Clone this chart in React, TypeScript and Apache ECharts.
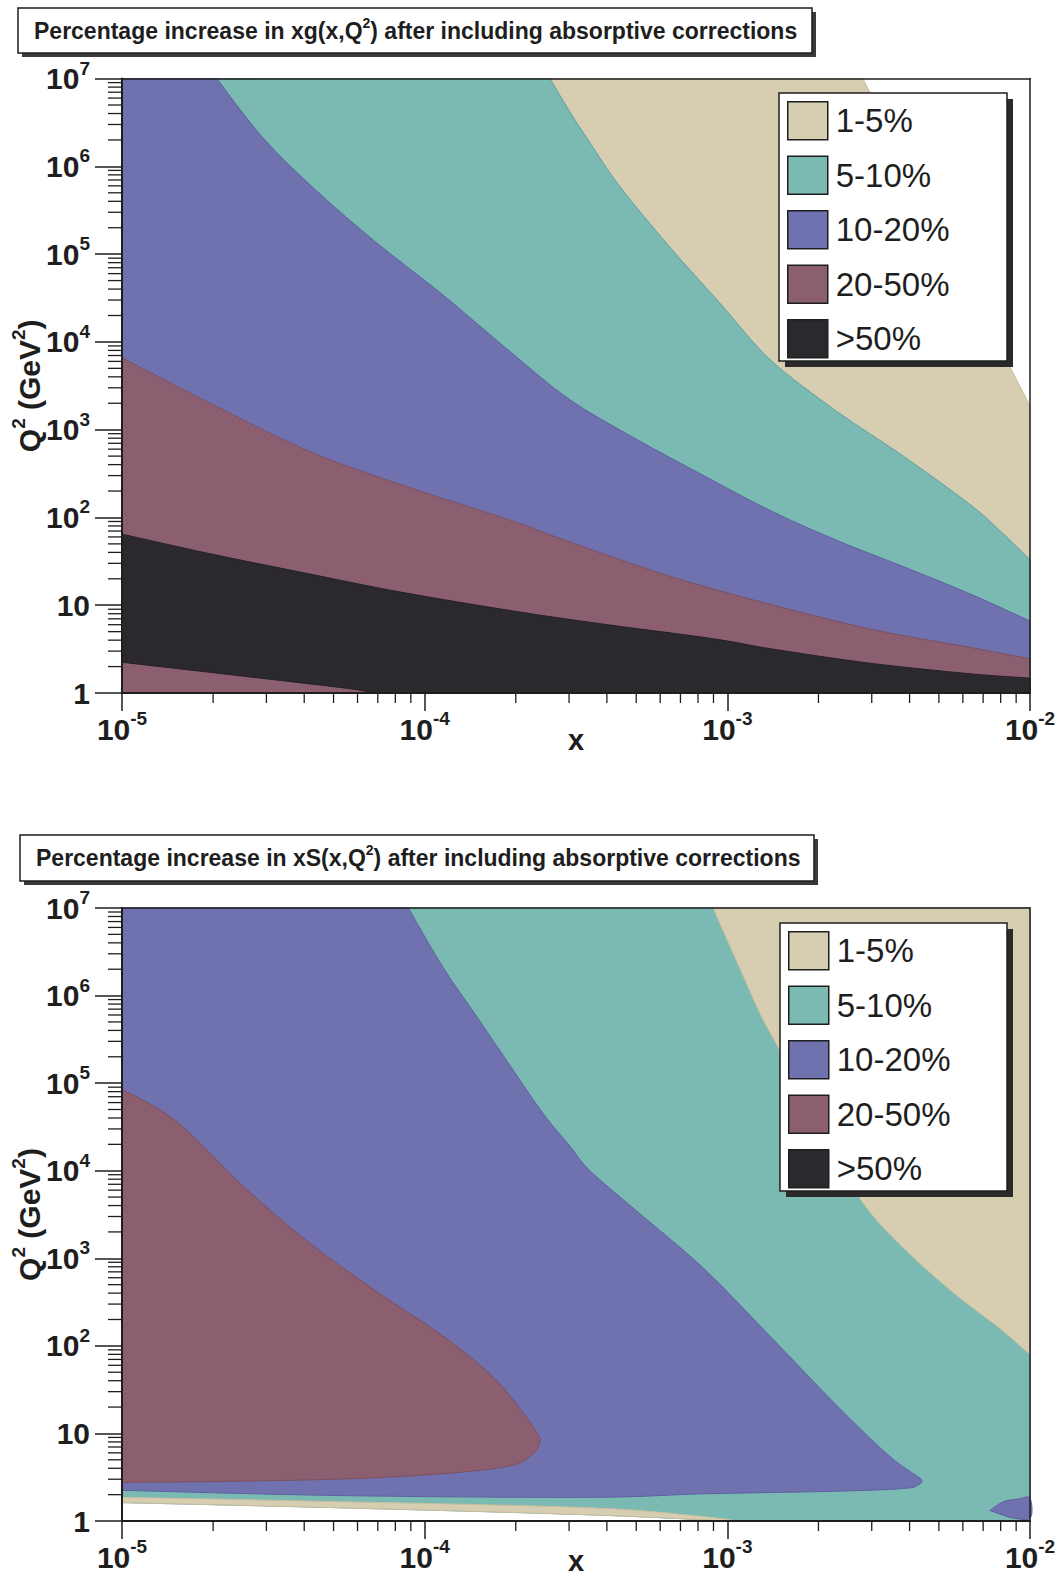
import React, { useEffect, useRef } from 'react';
import * as echarts from 'echarts';

// ---------------- data (log10 x, log10 Q^2) ----------------
const X_MIN = -5;
const X_MAX = -2;
const Y_MIN = 0;
const Y_MAX = 7;

const LEGEND_LABELS = ['1-5%', '5-10%', '10-20%', '20-50%', '>50%'];
const LEVEL_COLORS = ['#d7ceb1', '#7bb9b3', '#6f72ae', '#8b5f6f', '#2b282e'];
const LEVEL_STROKES = ['#c9bf9f', '#5f9fa2', '#5d60a0', '#7b5161', '#242127'];

const PANEL_TITLES = ['xg', 'xS'];

// top panel: xg(x,Q^2)
const TOP_DATA_CUTOFF = [[-2.552, 7.0], [-2.0, 3.27]];
const TOP_TAN_TEAL = [[-3.586, 7.0], [-3.52, 6.62], [-3.454, 6.27], [-3.355, 5.77], [-3.19, 5.08], [-3.024, 4.44], [-2.859, 3.8], [-2.639, 3.21], [-2.419, 2.7], [-2.199, 2.15], [-2.1, 1.85], [-2.0, 1.52]];
const TOP_TEAL_BLUE = [[-4.687, 7.0], [-4.533, 6.32], [-4.357, 5.72], [-4.159, 5.13], [-3.938, 4.53], [-3.718, 3.89], [-3.52, 3.34], [-3.3, 2.89], [-3.08, 2.48], [-2.859, 2.08], [-2.639, 1.74], [-2.419, 1.44], [-2.199, 1.13], [-2.0, 0.82]];
const TOP_BLUE_MAUVE = [[-5.0, 3.82], [-4.709, 3.3], [-4.379, 2.75], [-4.049, 2.34], [-3.718, 1.97], [-3.52, 1.72], [-3.19, 1.33], [-2.859, 1.01], [-2.529, 0.73], [-2.199, 0.52], [-2.0, 0.39]];
const TOP_MAUVE_BLACK = [[-5.0, 1.81], [-4.7, 1.58], [-4.4, 1.37], [-4.08, 1.15], [-3.7, 0.93], [-3.4, 0.78], [-3.05, 0.62], [-2.85, 0.5], [-2.53, 0.34], [-2.2, 0.22], [-2.0, 0.17]];
const TOP_BLACK_LOWER = [[-5.0, 0.35], [-4.62, 0.2], [-4.25, 0.05], [-4.18, 0.0]];

// bottom panel: xS(x,Q^2)
const BOT_DATA_FLOOR = [[-5.0, 0.21], [-4.27, 0.15], [-3.45, 0.07], [-3.0, 0.0]];
const BOT_TAN_LOW_EDGE = [[-5.0, 0.27], [-4.27, 0.22], [-3.45, 0.15], [-3.08, 0.05], [-2.97, 0.0]];
const BOT_TAN_TEAL = [[-3.047, 7.0], [-2.947, 6.22], [-2.887, 5.76], [-2.8, 5.2], [-2.69, 4.42], [-2.551, 3.63], [-2.419, 3.12], [-2.254, 2.61], [-2.1, 2.2], [-2.0, 1.9]];
const BOT_BLUE_EDGE = [[-4.054, 7.0], [-3.939, 6.32], [-3.828, 5.76], [-3.718, 5.2], [-3.608, 4.65], [-3.52, 4.28], [-3.454, 4.0], [-3.3, 3.54], [-3.08, 2.89], [-2.859, 2.11], [-2.639, 1.32], [-2.474, 0.77], [-2.39, 0.55], [-2.358, 0.47], [-2.37, 0.41], [-2.419, 0.37], [-2.639, 0.34], [-3.08, 0.31], [-3.454, 0.27], [-4.269, 0.29], [-5.0, 0.35]];
const BOT_BLUE_BLOB = [[-2.133, 0.12], [-2.088, 0.22], [-2.04, 0.25], [-2.0, 0.26], [-2.0, 0.03], [-2.066, 0.04]];
const BOT_MAUVE_EDGE = [[-5.0, 4.93], [-4.819, 4.56], [-4.599, 3.82], [-4.379, 3.17], [-4.159, 2.62], [-3.939, 2.11], [-3.773, 1.64], [-3.663, 1.18], [-3.625, 0.98], [-3.619, 0.9], [-3.641, 0.77], [-3.718, 0.63], [-3.939, 0.54], [-4.269, 0.48], [-4.709, 0.45], [-5.0, 0.44]];

const MINOR_MULTIPLIERS = [2, 3, 4, 5, 6, 7, 8, 9];

// ---------------- layout ----------------
const FONT = "'Liberation Sans', Arial, Helvetica, sans-serif";
const INK = '#1e1e1e';
const GRIDS = [
  { left: 122, top: 78.6, width: 908, height: 614.4 },
  { left: 122, top: 908, width: 908, height: 613 },
];
const X_NAME_GAPS = [47, 40];
const TITLE_BOXES = [
  { x: 18, y: 8, w: 794, h: 45 },
  { x: 20, y: 835, w: 794, h: 46 },
];
const LEGEND_BOXES = [
  { x: 779, y: 93, w: 228, h: 268 },
  { x: 780, y: 923, w: 227, h: 268 },
];

type Piece = { pts: number[][]; smooth?: boolean };
const rev = (a: number[][]) => a.slice().reverse();
const corner = (...pts: number[][]): Piece => ({ pts });
const curve = (pts: number[][]): Piece => ({ pts, smooth: true });

function regions(panel: number): [number, Piece[]][] {
  if (panel === 0) {
    return [
      [0, [corner([X_MIN, Y_MIN], [X_MIN, Y_MAX], ...TOP_DATA_CUTOFF, [X_MAX, Y_MIN])]],
      [1, [corner([X_MIN, Y_MIN], [X_MIN, Y_MAX]), curve(TOP_TAN_TEAL), corner([X_MAX, Y_MIN])]],
      [2, [corner([X_MIN, Y_MIN], [X_MIN, Y_MAX]), curve(TOP_TEAL_BLUE), corner([X_MAX, Y_MIN])]],
      [3, [corner([X_MIN, Y_MIN]), curve(TOP_BLUE_MAUVE), corner([X_MAX, Y_MIN])]],
      [4, [curve(TOP_MAUVE_BLACK), corner([X_MAX, Y_MIN]), curve(rev(TOP_BLACK_LOWER))]],
    ];
  }
  return [
    [1, [corner([X_MIN, Y_MAX], [X_MAX, Y_MAX], [X_MAX, Y_MIN]), curve(rev(BOT_DATA_FLOOR))]],
    [0, [curve(BOT_TAN_LOW_EDGE), curve(rev(BOT_DATA_FLOOR))]],
    [0, [curve(BOT_TAN_TEAL), corner([X_MAX, Y_MAX])]],
    [2, [corner([X_MIN, Y_MAX]), curve(BOT_BLUE_EDGE)]],
    [2, [curve(BOT_BLUE_BLOB)]],
    [3, [curve(BOT_MAUVE_EDGE)]],
  ];
}

// closed SVG path through the pieces; curved pieces are drawn as Catmull-Rom splines
function piecesToPath(pieces: Piece[], api: any) {
  let d = '';
  pieces.forEach((pc, k) => {
    const P = pc.pts.map((p) => api.coord(p));
    P.forEach((p, i) => {
      if (k === 0 && i === 0) d += `M${p[0]},${p[1]}`;
      else if (!pc.smooth || i === 0) d += `L${p[0]},${p[1]}`;
      else {
        const p0 = P[Math.max(i - 2, 0)];
        const p1 = P[i - 1];
        const p3 = P[Math.min(i + 1, P.length - 1)];
        const c1x = p1[0] + (p[0] - p0[0]) / 6;
        const c1y = p1[1] + (p[1] - p0[1]) / 6;
        const c2x = p[0] - (p3[0] - p1[0]) / 6;
        const c2y = p[1] - (p3[1] - p1[1]) / 6;
        d += `C${c1x},${c1y} ${c2x},${c2y} ${p[0]},${p[1]}`;
      }
    });
  });
  return d + 'Z';
}

function buildOption() {
  const xMinor: number[][] = [];
  const yMinor: number[][] = [];
  for (let d = X_MIN; d < X_MAX; d++) MINOR_MULTIPLIERS.forEach((m) => xMinor.push([d + Math.log10(m), Y_MIN]));
  for (let d = Y_MIN; d < Y_MAX; d++) MINOR_MULTIPLIERS.forEach((m) => yMinor.push([X_MIN, d + Math.log10(m)]));

  const labelRich = {
    b: { fontSize: 30, fontWeight: 'bold', fontFamily: FONT, color: INK, lineHeight: 40, verticalAlign: 'middle' },
    s: { fontSize: 19, fontWeight: 'bold', fontFamily: FONT, color: INK, lineHeight: 20, verticalAlign: 'top' },
  };

  const xAxis: any[] = [];
  const yAxis: any[] = [];
  const series: any[] = [];
  const graphic: any[] = [];
  const title: any[] = [];
  const legend: any[] = [];

  GRIDS.forEach((g, gi) => {
    xAxis.push({
      type: 'value', gridIndex: gi, min: X_MIN, max: X_MAX, interval: 1, z: 10,
      name: 'x', nameLocation: 'middle', nameGap: X_NAME_GAPS[gi], nameMoveOverlap: false,
      nameTextStyle: { fontSize: 29, fontWeight: 'bold', fontFamily: FONT, color: INK, align: 'center', verticalAlign: 'middle', lineHeight: 30 },
      axisLine: { show: true, onZero: false, lineStyle: { color: INK, width: 2 } },
      axisTick: { show: true, length: 18, lineStyle: { color: INK, width: 1.5 } },
      axisLabel: {
        show: true, margin: 16, showMinLabel: true, showMaxLabel: true, hideOverlap: false,
        formatter: (v: number) => `{b|10}{s|${v}}`, rich: labelRich,
      },
      splitLine: { show: false },
    });
    xAxis.push({
      type: 'value', gridIndex: gi, position: 'top', min: X_MIN, max: X_MAX, z: 10,
      axisLine: { show: true, onZero: false, lineStyle: { color: INK, width: 1.5 } },
      axisTick: { show: false }, axisLabel: { show: false }, splitLine: { show: false },
    });
    yAxis.push({
      type: 'value', gridIndex: gi, min: Y_MIN, max: Y_MAX, interval: 1, z: 10,
      name: '{b|Q}{s|2}{b| (GeV}{s|2}{b|)}', nameLocation: 'middle', nameGap: 93, nameRotate: 90, nameMoveOverlap: false,
      nameTextStyle: { align: 'center', verticalAlign: 'middle', rich: labelRich },
      axisLine: { show: true, onZero: false, lineStyle: { color: INK, width: 2 } },
      axisTick: { show: true, length: 27, lineStyle: { color: INK, width: 1.5 } },
      axisLabel: {
        show: true, margin: 32, showMinLabel: true, showMaxLabel: true, hideOverlap: false,
        formatter: (v: number) => (v === 0 ? '{b|1}' : v === 1 ? '{b|10}' : `{b|10}{s|${v}}`), rich: labelRich,
      },
      splitLine: { show: false },
    });
    yAxis.push({
      type: 'value', gridIndex: gi, position: 'right', min: Y_MIN, max: Y_MAX, z: 10,
      axisLine: { show: true, onZero: false, lineStyle: { color: INK, width: 1.5 } },
      axisTick: { show: false }, axisLabel: { show: false }, splitLine: { show: false },
    });

    const xi = gi * 2;
    regions(gi).forEach(([lvl, pieces]) => {
      const pts = pieces.reduce((acc: number[][], pc) => acc.concat(pc.pts), []);
      series.push({
        type: 'custom', name: LEGEND_LABELS[lvl], xAxisIndex: xi, yAxisIndex: xi, z: 2, silent: true,
        itemStyle: { color: LEVEL_COLORS[lvl] },
        data: pts, encode: { x: 0, y: 1 },
        renderItem: (params: any, api: any) => {
          if (params.dataIndex !== 0) return null;
          return {
            type: 'path',
            shape: { pathData: piecesToPath(pieces, api) },
            style: { fill: LEVEL_COLORS[lvl], stroke: LEVEL_STROKES[lvl], lineWidth: 1 },
          };
        },
      });
    });
    // >50% legend entry for panel 2 (no such region there)
    series.push({
      type: 'custom', name: LEGEND_LABELS[4], xAxisIndex: xi, yAxisIndex: xi, silent: true,
      itemStyle: { color: LEVEL_COLORS[4] }, data: [], renderItem: () => null,
    });
    // minor (log) ticks
    series.push({
      type: 'custom', xAxisIndex: xi, yAxisIndex: xi, z: 11, silent: true, clip: false,
      data: xMinor, encode: { x: 0, y: 1 },
      renderItem: (_p: any, api: any) => {
        const c = api.coord([api.value(0), api.value(1)]);
        return { type: 'line', shape: { x1: c[0], y1: c[1], x2: c[0], y2: c[1] + 10 }, style: { stroke: INK, lineWidth: 1.3 } };
      },
    });
    series.push({
      type: 'custom', xAxisIndex: xi, yAxisIndex: xi, z: 11, silent: true, clip: false,
      data: yMinor, encode: { x: 0, y: 1 },
      renderItem: (_p: any, api: any) => {
        const c = api.coord([api.value(0), api.value(1)]);
        return { type: 'line', shape: { x1: c[0] - 14, y1: c[1], x2: c[0], y2: c[1] }, style: { stroke: INK, lineWidth: 1.3 } };
      },
    });

    const tb = TITLE_BOXES[gi];
    graphic.push({ type: 'rect', z: 20, shape: { x: tb.x + 4, y: tb.y + 4, width: tb.w, height: tb.h }, style: { fill: '#3a3a3a' } });
    graphic.push({ type: 'rect', z: 21, shape: { x: tb.x, y: tb.y, width: tb.w, height: tb.h }, style: { fill: '#fff', stroke: INK, lineWidth: 1.5 } });
    const lb = LEGEND_BOXES[gi];
    graphic.push({ type: 'rect', z: 20, shape: { x: lb.x + 6, y: lb.y + 6, width: lb.w, height: lb.h }, style: { fill: '#2a2a2a' } });
    graphic.push({ type: 'rect', z: 21, shape: { x: lb.x, y: lb.y, width: lb.w, height: lb.h }, style: { fill: '#fff', stroke: INK, lineWidth: 1.5 } });

    title.push({
      text: `{t|Percentage increase in ${PANEL_TITLES[gi]}(x,Q}{ts|2}{t|) after including absorptive corrections}`,
      left: tb.x + 16, top: tb.y + 8, padding: 0, z: 30,
      textStyle: {
        rich: {
          t: { fontSize: 23, fontWeight: 'bold', fontFamily: FONT, color: INK, lineHeight: 30, verticalAlign: 'middle' },
          ts: { fontSize: 14, fontWeight: 'bold', fontFamily: FONT, color: INK, lineHeight: 16, verticalAlign: 'top' },
        },
      },
    });

    legend.push({
      orient: 'vertical', left: lb.x + 8, top: lb.y + 8, padding: 0, z: 30,
      itemWidth: 40, itemHeight: 38, itemGap: 15, selectedMode: false, icon: 'rect',
      itemStyle: { borderColor: INK, borderWidth: 1.5 },
      textStyle: { fontSize: 33, fontFamily: FONT, color: INK, padding: [0, 0, 0, 3] },
      data: LEGEND_LABELS,
    });
  });

  return {
    animation: false,
    backgroundColor: '#ffffff',
    grid: GRIDS.map((g) => ({ ...g, containLabel: false, outerBoundsMode: 'none' })),
    xAxis, yAxis, series, graphic, title, legend,
  };
}

export default function App() {
  const ref = useRef<HTMLDivElement>(null);
  useEffect(() => {
    if (!ref.current) return;
    const chart = echarts.init(ref.current, null, { renderer: 'svg' });
    chart.setOption(buildOption());
    return () => chart.dispose();
  }, []);
  return <div ref={ref} style={{ position: 'absolute', left: 0, top: 0, width: 1061, height: 1580 }} />;
}
